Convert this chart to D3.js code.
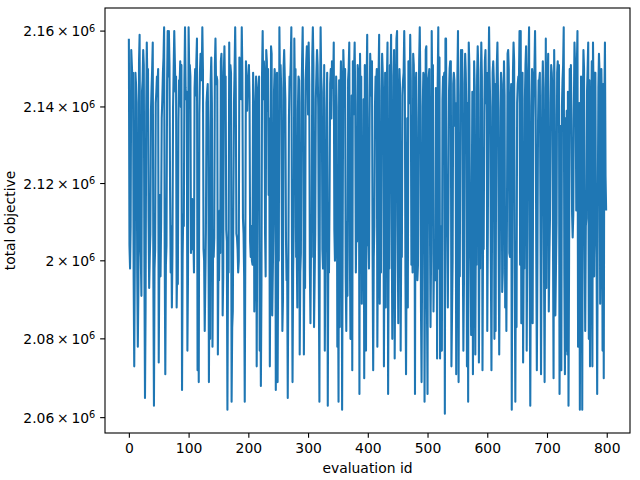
<!DOCTYPE html>
<html>
<head>
<meta charset="utf-8">
<script src="https://cdn.jsdelivr.net/npm/d3@7"></script>
<style>
  body { margin: 0; background: #fff; }
  svg { display: block; font-family: "DejaVu Sans", sans-serif; }
</style>
</head>
<body>
<svg id="chart" width="640" height="480"></svg>
<script>
// total objective per evaluation, in thousands
const totalObjK = [
  2158,2104,2098,2109,2155,2151,2147,2149,2096,2073,2102,2149,2146,2141,2097,2078,2094,2152,2159,2105,
  2101,2091,2144,2147,2155,2151,2099,2065,2088,2138,2157,2146,2150,2111,2093,2101,2107,2139,2145,2150,
  2157,2095,2063,2098,2103,2141,2144,2148,2146,2150,2074,2099,2117,2096,2110,2137,2142,2149,2153,2161,
  2103,2071,2099,2104,2146,2160,2148,2160,2151,2118,2097,2109,2088,2103,2140,2150,2160,2152,2144,2148,
  2088,2100,2094,2136,2147,2146,2152,2140,2151,2067,2101,2112,2109,2147,2161,2145,2142,2144,2077,2096,
  2161,2150,2151,2148,2102,2113,2116,2103,2106,2097,2145,2150,2143,2152,2158,2072,2098,2069,2138,2149,
  2154,2147,2148,2161,2150,2103,2100,2082,2095,2108,2141,2144,2146,2134,2069,2098,2080,2147,2153,2141,
  2078,2104,2101,2106,2151,2158,2146,2148,2147,2076,2099,2095,2113,2102,2152,2154,2142,2086,2096,2149,
  2156,2144,2148,2108,2105,2062,2100,2097,2157,2137,2151,2149,2064,2083,2087,2116,2141,2150,2161,2145,
  2107,2106,2103,2097,2100,2153,2147,2146,2142,2161,2149,2111,2107,2096,2064,2104,2152,2148,2139,2146,
  2146,2151,2143,2105,2101,2109,2100,2099,2149,2140,2087,2098,2138,2148,2073,2114,2144,2146,2148,2077,
  2102,2068,2094,2149,2160,2142,2152,2148,2107,2096,2155,2152,2139,2150,2117,2137,2073,2104,2156,2154,
  2086,2097,2110,2144,2150,2147,2067,2139,2149,2069,2102,2100,2161,2146,2151,2145,2112,2082,2090,2150,
  2155,2148,2142,2106,2095,2099,2065,2098,2137,2148,2146,2152,2161,2106,2069,2097,2109,2158,2143,2150,
  2101,2103,2088,2139,2148,2147,2076,2097,2102,2141,2152,2161,2140,2076,2109,2093,2147,2152,2156,2150,
  2138,2157,2146,2098,2084,2105,2101,2153,2161,2151,2083,2095,2107,2142,2149,2155,2151,2140,2096,2064,
  2138,2161,2148,2144,2103,2098,2110,2151,2077,2102,2106,2139,2149,2063,2104,2097,2117,2146,2150,2137,
  2152,2151,2145,2157,2108,2100,2105,2148,2140,2078,2103,2064,2147,2083,2141,2152,2145,2062,2109,2155,
  2149,2142,2150,2096,2082,2110,2091,2147,2150,2157,2102,2080,2100,2143,2072,2152,2138,2149,2157,2141,
  2097,2111,2105,2151,2149,2145,2066,2154,2139,2148,2089,2108,2101,2142,2070,2151,2140,2077,2146,2159,
  2104,2106,2098,2137,2154,2149,2143,2152,2102,2072,2101,2109,2140,2148,2146,2150,2078,2105,2148,2159,
  2089,2112,2097,2144,2154,2149,2138,2073,2106,2149,2088,2141,2147,2157,2066,2103,2098,2151,2146,2159,
  2112,2080,2103,2148,2155,2075,2099,2142,2158,2160,2109,2084,2139,2150,2145,2077,2106,2101,2143,2147,
  2149,2160,2146,2096,2071,2102,2137,2088,2152,2152,2141,2159,2147,2099,2108,2097,2154,2151,2138,2066,
  2143,2149,2105,2095,2099,2136,2152,2161,2145,2088,2069,2101,2140,2149,2148,2064,2107,2155,2156,2089,
  2066,2147,2148,2150,2111,2083,2102,2160,2141,2151,2087,2103,2103,2095,2145,2138,2075,2146,2161,2098,
  2153,2075,2109,2101,2077,2142,2148,2147,2149,2061,2158,2158,2111,2106,2088,2114,2144,2150,2152,2152,
  2073,2086,2100,2146,2149,2147,2135,2141,2071,2107,2148,2160,2069,2112,2096,2143,2155,2151,2155,2105,
  2077,2095,2146,2154,2149,2139,2073,2141,2064,2157,2151,2109,2100,2081,2113,2144,2071,2103,2152,2145,
  2076,2111,2099,2148,2156,2150,2074,2106,2098,2143,2157,2148,2072,2106,2103,2138,2152,2155,2141,2149,
  2082,2109,2145,2161,2148,2140,2100,2072,2109,2149,2152,2147,2080,2146,2082,2138,2151,2157,2144,2106,
  2076,2101,2139,2149,2146,2092,2097,2136,2152,2143,2088,2107,2082,2112,2154,2155,2150,2102,2101,2140,
  2146,2062,2108,2149,2157,2152,2097,2064,2105,2083,2141,2146,2148,2147,2160,2099,2160,2084,2110,2149,
  2074,2102,2098,2142,2151,2156,2077,2107,2146,2152,2161,2098,2063,2103,2140,2150,2084,2137,2148,2150,
  2160,2144,2103,2072,2100,2136,2147,2147,2149,2114,2071,2105,2143,2152,2145,2097,2069,2109,2158,2093,
  2139,2148,2154,2087,2101,2111,2141,2151,2149,2144,2106,2070,2155,2138,2086,2098,2110,2149,2152,2146,
  2151,2066,2103,2135,2072,2140,2147,2151,2161,2097,2071,2137,2077,2139,2076,2144,2063,2102,2150,2143,
  2151,2137,2112,2106,2112,2140,2157,2151,2146,2113,2151,2160,2078,2103,2141,2062,2110,2148,2145,2062,
  2141,2155,2150,2105,2082,2109,2111,2144,2150,2157,2080,2147,2073,2103,2138,2152,2073,2157,2142,2096,
  2149,2149,2109,2101,2066,2112,2145,2154,2149,2089,2106,2150,2140,2077,2146,2070,2141,2157,2122,2113
];
const evalIds = d3.range(totalObjK.length);

const xTicks = [0, 100, 200, 300, 400, 500, 600, 700, 800];
const yTicks = [2.06e6, 2.08e6, 2.1e6, 2.12e6, 2.14e6, 2.16e6];
const yTickMantissa = ['2.06', '2.08', '2', '2.12', '2.14', '2.16'];

const width = 640;
const height = 480;
const margin = { top: 8, right: 10, bottom: 47, left: 105 };
const fontPx = 13.9;
const tickLen = 4.86;

const values = totalObjK.map((d) => d * 1000);

// matplotlib-style 5% margins (log space for y)
const xExt = d3.extent(evalIds);
const xPad = (xExt[1] - xExt[0]) * 0.05;
const x = d3.scaleLinear()
  .domain([xExt[0] - xPad, xExt[1] + xPad])
  .range([margin.left, width - margin.right]);

const lyExt = d3.extent(values).map(Math.log10);
const lyPad = (lyExt[1] - lyExt[0]) * 0.05;
const y = d3.scaleLog()
  .domain([Math.pow(10, lyExt[0] - lyPad), Math.pow(10, lyExt[1] + lyPad)])
  .range([height - margin.bottom, margin.top]);

const svg = d3.select('#chart');

// data line
const line = d3.line()
  .x((d, i) => x(evalIds[i]))
  .y((d) => y(d));

svg.append('path')
  .datum(values)
  .attr('d', line)
  .attr('fill', 'none')
  .attr('stroke', '#1f77b4')
  .attr('stroke-width', 2.08)
  .attr('stroke-linejoin', 'round');

// x axis
const xAxis = svg.append('g')
  .attr('transform', `translate(0, ${height - margin.bottom})`)
  .call(d3.axisBottom(x).tickValues(xTicks).tickSizeInner(tickLen).tickSizeOuter(0).tickPadding(4.86));
xAxis.select('.domain').remove();
xAxis.selectAll('line').attr('stroke', '#000').attr('stroke-width', 1.1);
xAxis.selectAll('text')
  .attr('font-size', fontPx)
  .attr('font-family', 'DejaVu Sans')
  .attr('fill', '#000');

// y axis with mathtext-like labels
const yAxis = svg.append('g')
  .attr('transform', `translate(${margin.left}, 0)`);

const yTick = yAxis.selectAll('g')
  .data(yTicks)
  .join('g')
  .attr('transform', (d) => `translate(0, ${y(d)})`);

yTick.append('line')
  .attr('x1', -tickLen)
  .attr('x2', 0)
  .attr('stroke', '#000')
  .attr('stroke-width', 1.1);

const yLabel = yTick.append('text')
  .attr('x', -tickLen - 4.86)
  .attr('dy', '0.36em')
  .attr('text-anchor', 'end')
  .attr('font-size', fontPx)
  .attr('fill', '#000');

yLabel.append('tspan')
  .text((d, i) => `${yTickMantissa[i]}\u2009\u00d7\u200910`);
yLabel.append('tspan')
  .attr('dy', '-0.45em')
  .attr('font-size', fontPx * 0.7)
  .text('6');

// spines
svg.append('rect')
  .attr('x', margin.left)
  .attr('y', margin.top)
  .attr('width', width - margin.left - margin.right)
  .attr('height', height - margin.top - margin.bottom)
  .attr('fill', 'none')
  .attr('stroke', '#000')
  .attr('stroke-width', 1.1);

// axis titles
svg.append('text')
  .text('evaluation id')
  .attr('x', (margin.left + width - margin.right) / 2)
  .attr('y', 473)
  .attr('text-anchor', 'middle')
  .attr('font-size', fontPx)
  .attr('fill', '#000');

svg.append('text')
  .text('total objective')
  .attr('transform', `translate(15, ${(margin.top + height - margin.bottom) / 2}) rotate(-90)`)
  .attr('text-anchor', 'middle')
  .attr('font-size', fontPx)
  .attr('fill', '#000');
</script>
</body>
</html>
